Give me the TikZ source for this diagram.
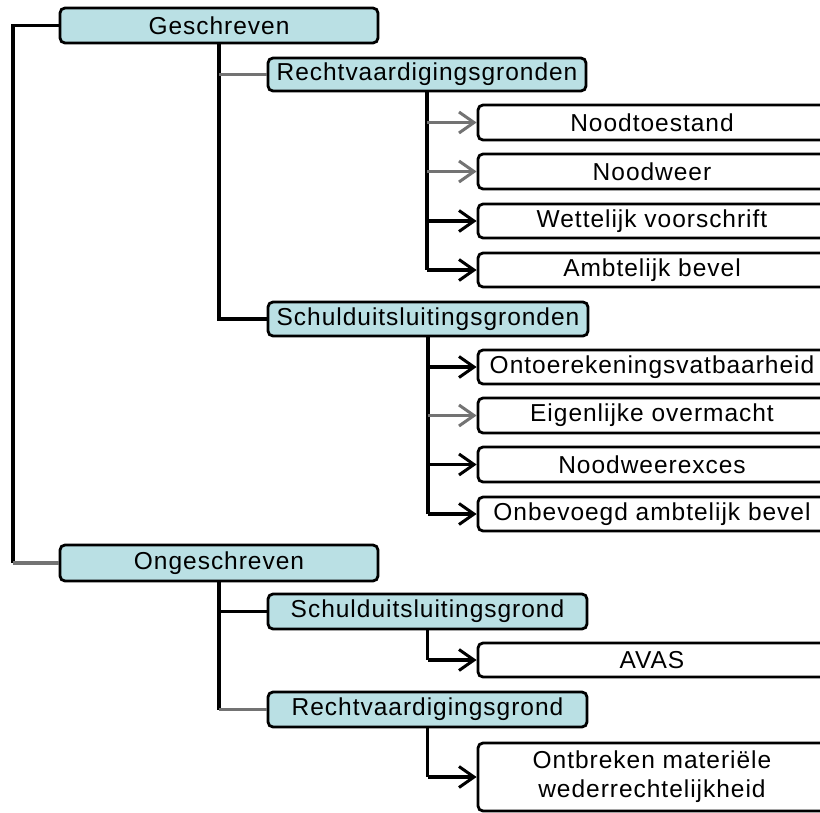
\documentclass[tikz,border=0pt]{standalone}
\usepackage{fontspec}
\setmainfont{Liberation Sans}[LetterSpace=4]
\usetikzlibrary{arrows.meta}
\definecolor{catfill}{HTML}{BAE0E4}
\begin{document}
\begin{tikzpicture}[x=1pt,y=-1pt,
  box/.style={draw=black, line width=2.8pt, rounded corners=5pt, inner sep=0pt,
    text=black, font=\fontsize{24.5}{29}\selectfont, align=center},
  cat/.style={box, fill=catfill},
  leaf/.style={box, fill=white, minimum width=348pt},
  link/.style={line width=3.4pt, draw=black},
  glink/.style={line width=3.6pt, draw=black!55},
  arr/.style={link, -{Straight Barb[length=15pt,width=21pt,line width=3pt]}},
  garr/.style={glink, -{Straight Barb[length=15pt,width=21pt,line width=3pt]}}]
\useasboundingbox (0,0) rectangle (820,812);
\clip (0,0) rectangle (820,812);

% category boxes
\node[cat, minimum width=318pt, minimum height=35pt] (g1) at (219,25.5) {Geschreven};
\node[cat, minimum width=318pt, minimum height=33pt] (r1) at (427,74.5) {Rechtvaardigingsgronden};
\node[cat, minimum width=320pt, minimum height=34pt] (s1) at (428,319) {Schulduitsluitingsgronden};
\node[cat, minimum width=318pt, minimum height=36pt] (g2) at (219,563) {Ongeschreven};
\node[cat, minimum width=319pt, minimum height=35pt] (s2) at (427.5,611.5) {Schulduitsluitingsgrond};
\node[cat, minimum width=319pt, minimum height=35pt] (r2) at (427.5,709.5) {Rechtvaardigingsgrond};

% leaf boxes
\node[leaf, minimum height=35pt] (n1) at (652,122.5) {Noodtoestand};
\node[leaf, minimum height=35pt] (n2) at (652,171.5) {Noodweer};
\node[leaf, minimum height=34pt] (n3) at (652,221) {Wettelijk voorschrift};
\node[leaf, minimum height=34pt] (n4) at (652,270) {Ambtelijk bevel};
\node[leaf, minimum height=34pt] (m1) at (652,367) {Ontoerekeningsvatbaarheid};
\node[leaf, minimum height=35pt] (m2) at (652,415.5) {Eigenlijke overmacht};
\node[leaf, minimum height=35pt] (m3) at (652,464.5) {Noodweerexces};
\node[leaf, minimum height=34pt] (m4) at (652,514) {Onbevoegd ambtelijk bevel};
\node[leaf, minimum height=34pt] (a1) at (652,660) {AVAS};
\node[leaf, minimum height=68pt] (o1) at (652,777) {Ontbreken materiële\\wederrechtelijkheid};

% left bracket
\coordinate (lb) at (13,25.5);
\draw[link] (g1.west) -- (lb) -- (lb |- g2.west);
\draw[glink] (lb |- g2.west) -- (g2.west);

% Geschreven
\draw[link] (g1.south) -- (g1.south |- s1.west) -- (s1.west);
\draw[glink] (g1.south |- r1.west) -- (r1.west);

% Rechtvaardigingsgronden
\draw[link] (r1.south) -- (r1.south |- n4.west);
\draw[garr] (r1.south |- n1.west) -- (n1.west);
\draw[garr] (r1.south |- n2.west) -- (n2.west);
\draw[arr] (r1.south |- n3.west) -- (n3.west);
\draw[arr] (r1.south |- n4.west) -- (n4.west);

% Schulduitsluitingsgronden
\draw[link] (s1.south) -- (s1.south |- m4.west);
\draw[arr] (s1.south |- m1.west) -- (m1.west);
\draw[garr] (s1.south |- m2.west) -- (m2.west);
\draw[arr] (s1.south |- m3.west) -- (m3.west);
\draw[arr] (s1.south |- m4.west) -- (m4.west);

% Ongeschreven
\draw[link] (g2.south) -- (g2.south |- r2.west);
\draw[link] (g2.south |- s2.west) -- (s2.west);
\draw[glink] (g2.south |- r2.west) -- (r2.west);

% Schulduitsluitingsgrond
\draw[link] (s2.south) -- (s2.south |- a1.west);
\draw[arr] (s2.south |- a1.west) -- (a1.west);

% Rechtvaardigingsgrond
\draw[link] (r2.south) -- (r2.south |- o1.west);
\draw[arr] (r2.south |- o1.west) -- (o1.west);
\end{tikzpicture}
\end{document}
